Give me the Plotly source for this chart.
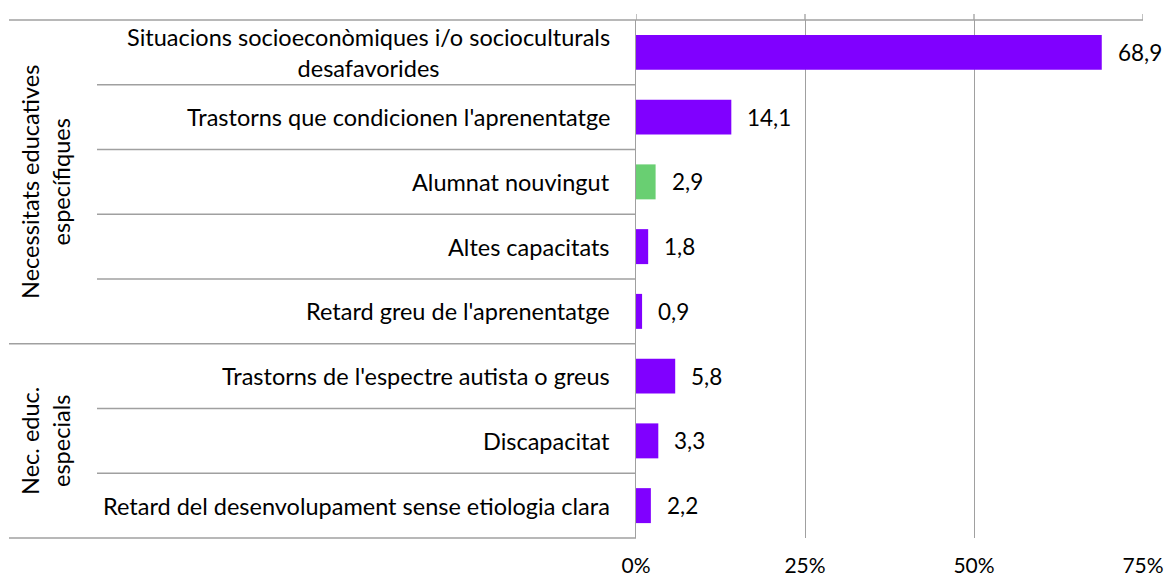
import plotly.graph_objects as go

categories = [
    "Situacions socioeconòmiques i/o socioculturals<br>desafavorides",
    "Trastorns que condicionen l'aprenentatge",
    "Alumnat nouvingut",
    "Altes capacitats",
    "Retard greu de l'aprenentatge",
    "Trastorns de l'espectre autista o greus",
    "Discapacitat",
    "Retard del desenvolupament sense etiologia clara",
]
values = [68.9, 14.1, 2.9, 1.8, 0.9, 5.8, 3.3, 2.2]
highlight = "Alumnat nouvingut"
group_names = ["Necessitats educatives<br>específiques", "Nec. educ.<br>especials"]
group_sizes = [5, 3]
tick_vals = [0, 25, 50, 75]
tick_text = ["0%", "25%", "50%", "75%"]

PURPLE = "#8000FF"
GREEN = "#69CF72"
LINE = "#A0A0A0"
FONT = "Lato"
FS = 23.5

bar_colors = [GREEN if c == highlight else PURPLE for c in categories]

fig = go.Figure()
fig.add_trace(go.Bar(
    x=values, y=categories, orientation="h",
    marker=dict(color=bar_colors, line=dict(width=0)),
    width=0.54, showlegend=False, hoverinfo="x+y",
))

W, H = 1167, 579
L, R, T, B = 636, 24, 20, 41
pw = W - L - R
ph = H - T - B

def px_to_paper_x(px):
    return (px - L) / pw

annotations = []
for c in categories:
    annotations.append(dict(
        x=0, y=c, xref="x", yref="y", text=c, showarrow=False,
        xanchor="right", yanchor="middle", align="center", xshift=-24,
        font=dict(family=FONT, size=FS, color="#000000"),
    ))
for c, v in zip(categories, values):
    annotations.append(dict(
        x=v, y=c, xref="x", yref="y", text=f"{v:.1f}".replace(".", ","),
        showarrow=False, xanchor="left", yanchor="middle", xshift=14,
        font=dict(family=FONT, size=22.5, color="#000000"),
    ))

shapes = []
n = len(categories)
inner_x0 = px_to_paper_x(97)
outer_x0 = px_to_paper_x(9)
group_bounds = set()
acc = 0
for s in group_sizes:
    acc += s
    group_bounds.add(acc)
for k in range(0, n + 1):
    yp = 1 - k / n
    if k == 0:
        x0, x1 = outer_x0, 1
    elif k in group_bounds:
        x0, x1 = outer_x0, 0
    else:
        x0, x1 = inner_x0, 0
    shapes.append(dict(type="line", xref="paper", yref="paper", x0=x0, x1=x1,
                       y0=yp, y1=yp, line=dict(color=LINE, width=1.3)))
for tv in tick_vals:
    shapes.append(dict(type="line", xref="x", yref="paper", x0=tv, x1=tv,
                       y0=1, y1=1 + 6 / ph, line=dict(color=LINE, width=1.3)))

start = 0
for g, s in zip(group_names, group_sizes):
    ymid = 1 - (start + s / 2) / n
    annotations.append(dict(
        x=px_to_paper_x(46), y=ymid, xref="paper", yref="paper", text=g,
        showarrow=False, textangle=-90, xanchor="center", yanchor="middle",
        align="center", font=dict(family=FONT, size=FS, color="#000000"),
    ))
    start += s

fig.update_layout(
    width=W, height=H,
    margin=dict(l=L, r=R, t=T, b=B, autoexpand=False),
    paper_bgcolor="white", plot_bgcolor="white",
    font=dict(family=FONT, size=21, color="#000000"),
    xaxis=dict(range=[0, 75], tickvals=tick_vals, ticktext=tick_text,
               showgrid=True, gridcolor=LINE, gridwidth=1.3,
               zeroline=False, showline=False, ticks="",
               ticklabelstandoff=13, automargin=False, fixedrange=True,
               tickfont=dict(family=FONT, size=21)),
    yaxis=dict(autorange="reversed", showticklabels=False, showgrid=False,
               showline=True, linecolor=LINE, linewidth=1.3, ticks="",
               zeroline=False, automargin=False, fixedrange=True),
    annotations=annotations,
    shapes=shapes,
)

fig.write_html("out.html", config={"displayModeBar": False},
               post_script="document.body.style.margin='0';document.body.style.overflow='hidden';")
